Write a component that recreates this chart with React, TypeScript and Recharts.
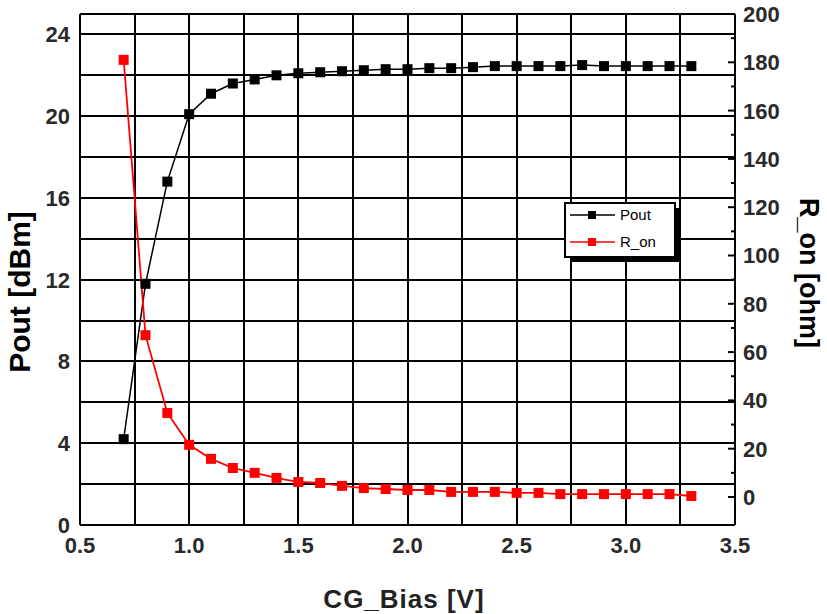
import React from "react";
import {
  ComposedChart,
  Line,
  XAxis,
  YAxis,
  ReferenceLine,
  Label,
} from "recharts";

const biasV = [
  0.7, 0.8, 0.9, 1.0, 1.1, 1.2, 1.3, 1.4, 1.5, 1.6, 1.7, 1.8, 1.9, 2.0, 2.1,
  2.2, 2.3, 2.4, 2.5, 2.6, 2.7, 2.8, 2.9, 3.0, 3.1, 3.2, 3.3,
];
const poutDbm = [
  4.2, 11.8, 16.8, 20.1, 21.1, 21.6, 21.8, 22.0, 22.1, 22.15, 22.2, 22.25,
  22.3, 22.3, 22.35, 22.35, 22.4, 22.45, 22.45, 22.45, 22.45, 22.5, 22.45,
  22.45, 22.45, 22.45, 22.45,
];
const ronOhm = [
  181, 67, 34.8, 21.6, 15.8, 12, 10, 7.9, 6.2, 5.8, 4.6, 3.7, 3.3, 2.9, 2.9,
  2.1, 2.1, 2.1, 1.7, 1.7, 1.2, 1.2, 1.2, 1.2, 1.2, 1.2, 0.4,
];

const xTicks = [0.5, 1.0, 1.5, 2.0, 2.5, 3.0, 3.5];
const xGrid = [0.75, 1.0, 1.25, 1.5, 1.75, 2.0, 2.25, 2.5, 2.75, 3.0, 3.25];
const leftTicks = [0, 4, 8, 12, 16, 20, 24];
const leftGrid = [2, 4, 6, 8, 10, 12, 14, 16, 18, 20, 22, 24, 25];
const rightTicks = [
  0, 10, 20, 30, 40, 50, 60, 70, 80, 90, 100, 110, 120, 130, 140, 150, 160,
  170, 180, 190, 200,
];

const data = biasV.map((v, i) => ({ v, pout: poutDbm[i], ron: ronOhm[i] }));

const FONT = "'Liberation Sans', Arial, sans-serif";
const tickStyle = { fontSize: 22, fontWeight: 700, fill: "#2a2a2a", fontFamily: FONT };

function SquareDot(color: string) {
  return (props: any) => {
    const { cx, cy, index } = props;
    if (cx == null || cy == null) return <g key={index} />;
    return <rect key={index} x={cx - 5} y={cy - 5} width={10} height={10} fill={color} />;
  };
}

function RightTick(props: any) {
  const { x, y, payload } = props;
  const major = payload.value % 20 === 0;
  const ax = x - 8;
  return (
    <g>
      <line x1={ax - (major ? 7 : 4)} y1={y} x2={ax} y2={y} stroke="#000" strokeWidth={2} />
      {major && (
        <text x={x} y={y} dy="0.36em" textAnchor="start" {...tickStyle}>
          {payload.value}
        </text>
      )}
    </g>
  );
}

function LegendBox() {
  return (
    <svg width={120} height={64} style={{ display: "block" }}>
      <rect x={6} y={6} width={110} height={54} fill="#000" />
      <rect x={1} y={1} width={110} height={54} fill="#fff" stroke="#000" strokeWidth={2} />
      <line x1={6} y1={13} x2={51} y2={13} stroke="#000" strokeWidth={1.5} />
      <rect x={24} y={9} width={8} height={8} fill="#000" />
      <text x={56} y={13} dy="0.36em" fontSize={15} fontFamily={FONT} fill="#000">Pout</text>
      <line x1={6} y1={40} x2={51} y2={40} stroke="#ff0000" strokeWidth={1.5} />
      <rect x={24} y={36} width={8} height={8} fill="#ff0000" />
      <text x={56} y={40} dy="0.36em" fontSize={15} fontFamily={FONT} fill="#000">R_on</text>
    </svg>
  );
}

export default function App() {
  return (
    <div style={{ position: "absolute", left: 0, top: 0, width: 827, height: 614, background: "#fff" }}>
      <ComposedChart
        width={827}
        height={614}
        data={data}
        margin={{ top: 14, right: 0, left: 0, bottom: 0 }}
      >
        <XAxis
          dataKey="v"
          type="number"
          domain={[0.5, 3.5]}
          ticks={xTicks}
          interval={0}
          height={89}
          tickLine={false}
          tickSize={0}
          tickMargin={12}
          axisLine={{ stroke: "#000", strokeWidth: 2 }}
          tick={tickStyle}
          tickFormatter={(t: number) => t.toFixed(1)}
        >
          <Label
            content={() => (
              <text
                x={404}
                y={599}
                dy="0.36em"
                textAnchor="middle"
                fontSize={26}
                fontWeight={700}
                letterSpacing={1}
                fontFamily={FONT}
                fill="#222"
              >
                CG_Bias [V]
              </text>
            )}
          />
        </XAxis>
        <YAxis
          yAxisId="left"
          domain={[0, 25]}
          ticks={leftTicks}
          interval={0}
          width={80}
          tickLine={false}
          tickSize={0}
          tickMargin={10}
          axisLine={{ stroke: "#000", strokeWidth: 2 }}
          tick={tickStyle}
        >
          <Label
            content={() => (
              <text
                x={19}
                y={292}
                dy="0.36em"
                textAnchor="middle"
                transform="rotate(-90 19 292)"
                fontSize={30}
                fontWeight={700}
                fontFamily={FONT}
                fill="#000"
              >
                Pout [dBm]
              </text>
            )}
          />
        </YAxis>
        <YAxis
          yAxisId="right"
          orientation="right"
          domain={[-11.6, 200]}
          ticks={rightTicks}
          interval={0}
          width={92}
          tickLine={false}
          tickSize={0}
          tickMargin={8}
          axisLine={{ stroke: "#000", strokeWidth: 2 }}
          tick={<RightTick />}
        >
          <Label
            content={() => (
              <text
                x={810}
                y={273}
                dy="0.36em"
                textAnchor="middle"
                transform="rotate(90 810 273)"
                fontSize={27}
                fontWeight={700}
                fontFamily={FONT}
                fill="#000"
              >
                R_on [ohm]
              </text>
            )}
          />
        </YAxis>
        {xGrid.map((g) => (
          <ReferenceLine
            key={"vx" + g}
            yAxisId="left"
            x={g}
            stroke="#000"
            strokeWidth={2}
            shapeRendering="crispEdges"
          />
        ))}
        {leftGrid.map((g) => (
          <ReferenceLine
            key={"hy" + g}
            yAxisId="left"
            y={g}
            stroke="#000"
            strokeWidth={2}
            shapeRendering="crispEdges"
          />
        ))}
        <Line
          yAxisId="left"
          type="linear"
          dataKey="pout"
          name="Pout"
          stroke="#000"
          strokeWidth={1.5}
          dot={SquareDot("#000")}
          activeDot={false}
          isAnimationActive={false}
        />
        <Line
          yAxisId="right"
          type="linear"
          dataKey="ron"
          name="R_on"
          stroke="#ff0000"
          strokeWidth={1.8}
          dot={SquareDot("#ff0000")}
          activeDot={false}
          isAnimationActive={false}
        />
      </ComposedChart>
      <div style={{ position: "absolute", left: 564, top: 202 }}>
        <LegendBox />
      </div>
    </div>
  );
}
